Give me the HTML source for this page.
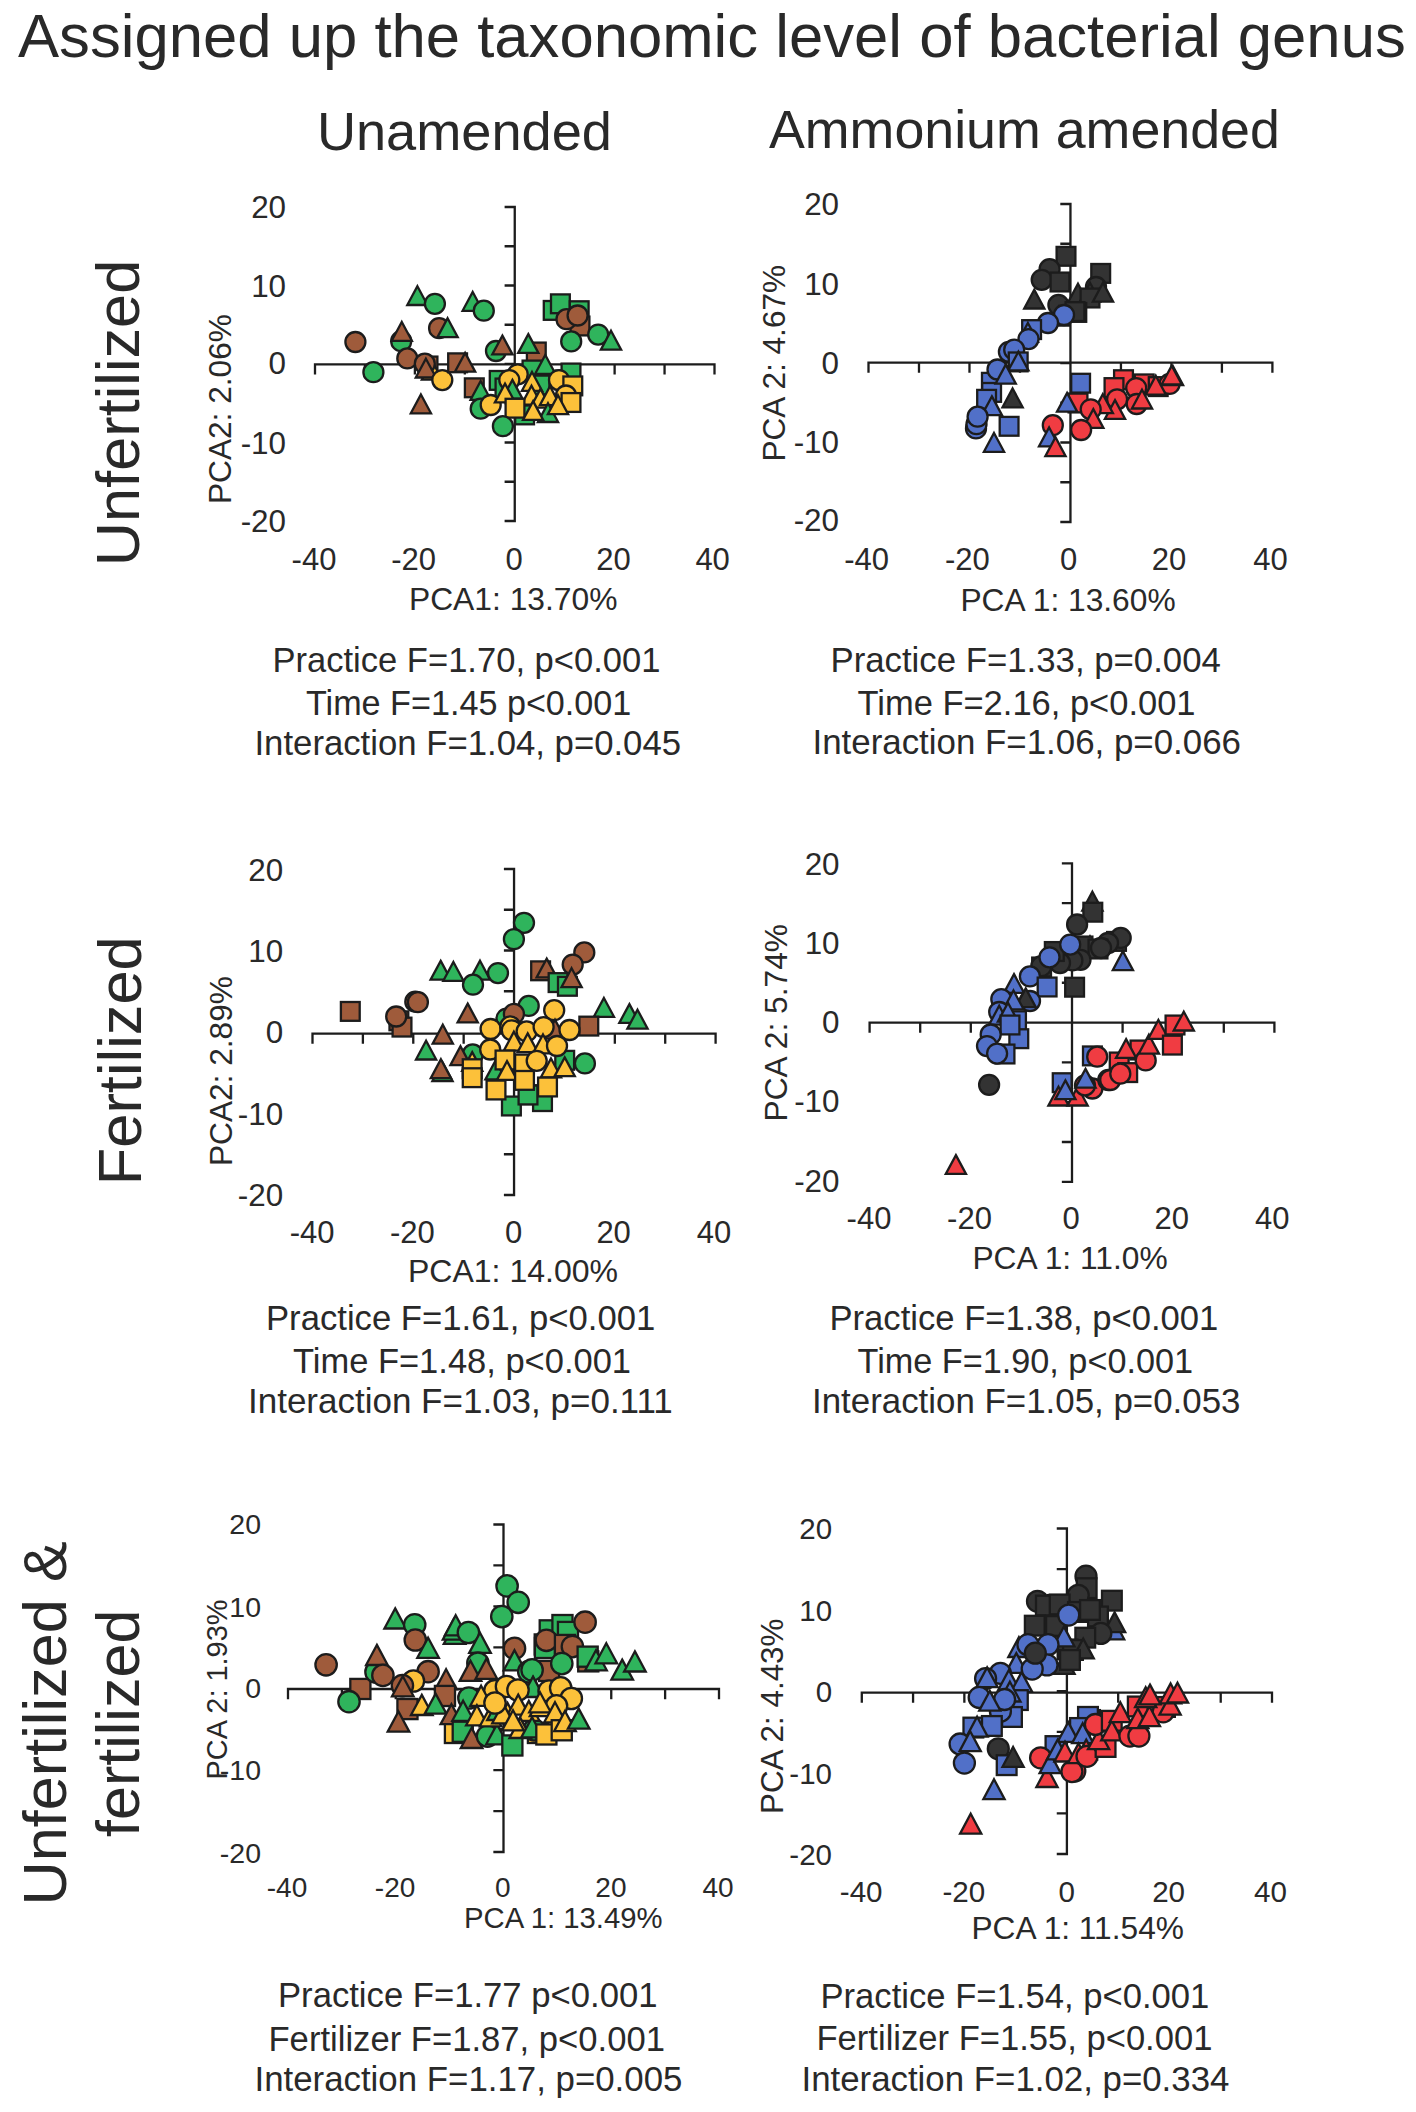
<!DOCTYPE html>
<html><head><meta charset="utf-8"><style>
html,body{margin:0;padding:0;background:#fff;}
svg{display:block;}
text{font-family:"Liberation Sans",sans-serif;fill:#292929;}
</style></head><body>
<svg width="1416" height="2112" viewBox="0 0 1416 2112">
<rect width="1416" height="2112" fill="#fff"/>
<path d="M514.75,207.00V521.00M505.75,207.00H514.75M505.75,246.25H514.75M505.75,285.50H514.75M505.75,324.75H514.75M505.75,364.00H514.75M505.75,403.25H514.75M505.75,442.50H514.75M505.75,481.75H514.75M505.75,521.00H514.75M315.00,364.30H714.50M315.00,364.30V373.30M364.94,364.30V373.30M414.88,364.30V373.30M464.81,364.30V373.30M514.75,364.30V373.30M564.69,364.30V373.30M614.62,364.30V373.30M664.56,364.30V373.30M714.50,364.30V373.30" fill="none" stroke="#1c1c1c" stroke-width="2.3" stroke-linecap="square"/>
<path d="M1070.45,204.00V522.00M1061.45,204.00H1070.45M1061.45,243.75H1070.45M1061.45,283.50H1070.45M1061.45,323.25H1070.45M1061.45,363.00H1070.45M1061.45,402.75H1070.45M1061.45,442.50H1070.45M1061.45,482.25H1070.45M1061.45,522.00H1070.45M868.50,362.60H1272.40M868.50,362.60V371.60M918.99,362.60V371.60M969.48,362.60V371.60M1019.96,362.60V371.60M1070.45,362.60V371.60M1120.94,362.60V371.60M1171.43,362.60V371.60M1221.91,362.60V371.60M1272.40,362.60V371.60" fill="none" stroke="#1c1c1c" stroke-width="2.3" stroke-linecap="square"/>
<path d="M514.05,869.00V1195.00M505.05,869.00H514.05M505.05,909.75H514.05M505.05,950.50H514.05M505.05,991.25H514.05M505.05,1032.00H514.05M505.05,1072.75H514.05M505.05,1113.50H514.05M505.05,1154.25H514.05M505.05,1195.00H514.05M312.50,1033.70H715.60M312.50,1033.70V1042.70M362.89,1033.70V1042.70M413.27,1033.70V1042.70M463.66,1033.70V1042.70M514.05,1033.70V1042.70M564.44,1033.70V1042.70M614.83,1033.70V1042.70M665.21,1033.70V1042.70M715.60,1033.70V1042.70" fill="none" stroke="#1c1c1c" stroke-width="2.3" stroke-linecap="square"/>
<path d="M1072.00,863.30V1181.80M1063.00,863.30H1072.00M1063.00,903.11H1072.00M1063.00,942.92H1072.00M1063.00,982.74H1072.00M1063.00,1022.55H1072.00M1063.00,1062.36H1072.00M1063.00,1102.17H1072.00M1063.00,1141.99H1072.00M1063.00,1181.80H1072.00M869.60,1022.60H1274.40M869.60,1022.60V1031.60M920.20,1022.60V1031.60M970.80,1022.60V1031.60M1021.40,1022.60V1031.60M1072.00,1022.60V1031.60M1122.60,1022.60V1031.60M1173.20,1022.60V1031.60M1223.80,1022.60V1031.60M1274.40,1022.60V1031.60" fill="none" stroke="#1c1c1c" stroke-width="2.3" stroke-linecap="square"/>
<path d="M503.50,1524.50V1852.00M494.50,1524.50H503.50M494.50,1565.44H503.50M494.50,1606.38H503.50M494.50,1647.31H503.50M494.50,1688.25H503.50M494.50,1729.19H503.50M494.50,1770.12H503.50M494.50,1811.06H503.50M494.50,1852.00H503.50M288.00,1689.00H719.00M288.00,1689.00V1698.00M341.88,1689.00V1698.00M395.75,1689.00V1698.00M449.62,1689.00V1698.00M503.50,1689.00V1698.00M557.38,1689.00V1698.00M611.25,1689.00V1698.00M665.12,1689.00V1698.00M719.00,1689.00V1698.00" fill="none" stroke="#1c1c1c" stroke-width="2.3" stroke-linecap="square"/>
<path d="M1066.90,1528.50V1854.00M1057.90,1528.50H1066.90M1057.90,1569.19H1066.90M1057.90,1609.88H1066.90M1057.90,1650.56H1066.90M1057.90,1691.25H1066.90M1057.90,1731.94H1066.90M1057.90,1772.62H1066.90M1057.90,1813.31H1066.90M1057.90,1854.00H1066.90M861.80,1692.60H1272.00M861.80,1692.60V1701.60M913.07,1692.60V1701.60M964.35,1692.60V1701.60M1015.62,1692.60V1701.60M1066.90,1692.60V1701.60M1118.17,1692.60V1701.60M1169.45,1692.60V1701.60M1220.72,1692.60V1701.60M1272.00,1692.60V1701.60" fill="none" stroke="#1c1c1c" stroke-width="2.3" stroke-linecap="square"/>
<g stroke="#1c1c1c" stroke-width="2.3" stroke-linejoin="miter">
<circle cx="355.4" cy="342.0" r="10.00" fill="#9f5b3b"/>
<circle cx="373.4" cy="372.2" r="10.00" fill="#2fb45c"/>
<path d="M417.4,286.2L427.5,305.0H407.3Z" fill="#2fb45c"/>
<circle cx="434.9" cy="303.8" r="10.00" fill="#2fb45c"/>
<circle cx="439.1" cy="328.2" r="10.00" fill="#9f5b3b"/>
<path d="M447.6,318.3L457.7,337.1H437.5Z" fill="#2fb45c"/>
<circle cx="401.2" cy="341.2" r="10.00" fill="#2fb45c"/>
<path d="M401.8,322.0L411.9,340.8H391.7Z" fill="#9f5b3b"/>
<circle cx="407.3" cy="358.4" r="10.00" fill="#9f5b3b"/>
<rect x="418.6" y="356.6" width="18.80" height="18.80" fill="#9f5b3b"/>
<path d="M432.0,360.8L442.1,379.6H421.9Z" fill="#fcc13a"/>
<circle cx="424.8" cy="363.7" r="10.00" fill="#9f5b3b"/>
<path d="M425.9,358.7L436.0,377.5H415.8Z" fill="#9f5b3b"/>
<circle cx="442.3" cy="380.1" r="10.00" fill="#fcc13a"/>
<rect x="448.2" y="353.4" width="18.80" height="18.80" fill="#9f5b3b"/>
<path d="M465.1,352.9L475.2,371.7H455.0Z" fill="#9f5b3b"/>
<path d="M420.9,394.5L431.0,413.3H410.8Z" fill="#9f5b3b"/>
<path d="M472.7,292.0L482.8,310.8H462.6Z" fill="#2fb45c"/>
<circle cx="483.8" cy="310.7" r="10.00" fill="#2fb45c"/>
<circle cx="496.0" cy="351.0" r="10.00" fill="#2fb45c"/>
<path d="M502.4,335.6L512.5,354.4H492.3Z" fill="#9f5b3b"/>
<rect x="526.9" y="342.6" width="18.80" height="18.80" fill="#9f5b3b"/>
<path d="M528.3,334.1L538.4,352.9H518.2Z" fill="#2fb45c"/>
<rect x="543.8" y="301.0" width="18.80" height="18.80" fill="#2fb45c"/>
<rect x="551.0" y="294.4" width="18.80" height="18.80" fill="#2fb45c"/>
<rect x="569.8" y="301.3" width="18.80" height="18.80" fill="#2fb45c"/>
<rect x="570.6" y="316.6" width="18.80" height="18.80" fill="#9f5b3b"/>
<circle cx="566.5" cy="319.2" r="10.00" fill="#9f5b3b"/>
<circle cx="577.6" cy="315.5" r="10.00" fill="#9f5b3b"/>
<circle cx="571.2" cy="341.4" r="10.00" fill="#2fb45c"/>
<circle cx="598.2" cy="334.6" r="10.00" fill="#2fb45c"/>
<path d="M611.0,330.8L621.1,349.6H600.9Z" fill="#2fb45c"/>
<rect x="522.6" y="360.6" width="18.80" height="18.80" fill="#2fb45c"/>
<path d="M545.3,355.0L555.4,373.8H535.2Z" fill="#2fb45c"/>
<rect x="489.8" y="371.0" width="18.80" height="18.80" fill="#2fb45c"/>
<rect x="495.6" y="378.6" width="18.80" height="18.80" fill="#2fb45c"/>
<rect x="530.6" y="375.6" width="18.80" height="18.80" fill="#2fb45c"/>
<rect x="555.6" y="370.6" width="18.80" height="18.80" fill="#2fb45c"/>
<rect x="561.6" y="363.6" width="18.80" height="18.80" fill="#2fb45c"/>
<rect x="464.9" y="378.4" width="18.80" height="18.80" fill="#9f5b3b"/>
<path d="M480.7,381.0L490.8,399.8H470.6Z" fill="#2fb45c"/>
<circle cx="480.7" cy="408.7" r="10.00" fill="#2fb45c"/>
<circle cx="490.7" cy="405.0" r="10.00" fill="#fcc13a"/>
<circle cx="517.7" cy="374.3" r="10.00" fill="#fcc13a"/>
<circle cx="509.3" cy="380.1" r="10.00" fill="#fcc13a"/>
<path d="M512.4,379.9L522.5,398.7H502.3Z" fill="#2fb45c"/>
<path d="M505.0,383.6L515.1,402.4H494.9Z" fill="#fcc13a"/>
<path d="M532.0,372.0L542.1,390.8H521.9Z" fill="#fcc13a"/>
<circle cx="559.0" cy="380.1" r="10.00" fill="#fcc13a"/>
<rect x="563.4" y="376.5" width="18.80" height="18.80" fill="#fcc13a"/>
<circle cx="566.0" cy="395.5" r="10.00" fill="#fcc13a"/>
<rect x="561.6" y="393.1" width="18.80" height="18.80" fill="#fcc13a"/>
<path d="M531.5,385.8L541.6,404.6H521.4Z" fill="#fcc13a"/>
<path d="M540.5,388.9L550.6,407.7H530.4Z" fill="#fcc13a"/>
<path d="M550.0,386.3L560.1,405.1H539.9Z" fill="#fcc13a"/>
<rect x="515.2" y="405.5" width="18.80" height="18.80" fill="#2fb45c"/>
<rect x="505.6" y="398.8" width="18.80" height="18.80" fill="#fcc13a"/>
<path d="M548.0,403.2L558.1,422.0H537.9Z" fill="#2fb45c"/>
<path d="M558.0,395.3L568.1,414.1H547.9Z" fill="#fcc13a"/>
<path d="M533.1,401.1L543.2,419.9H523.0Z" fill="#fcc13a"/>
<circle cx="502.9" cy="426.2" r="10.00" fill="#2fb45c"/>
<rect x="1056.6" y="246.9" width="18.80" height="18.80" fill="#333333"/>
<circle cx="1049.6" cy="269.2" r="10.00" fill="#333333"/>
<circle cx="1041.7" cy="279.8" r="10.00" fill="#333333"/>
<rect x="1050.6" y="272.6" width="18.80" height="18.80" fill="#333333"/>
<path d="M1034.3,289.7L1044.4,308.5H1024.2Z" fill="#333333"/>
<rect x="1091.3" y="264.0" width="18.80" height="18.80" fill="#333333"/>
<circle cx="1096.0" cy="287.0" r="10.00" fill="#333333"/>
<path d="M1078.0,283.8L1088.1,302.6H1067.9Z" fill="#333333"/>
<path d="M1090.0,282.8L1100.1,301.6H1079.9Z" fill="#333333"/>
<rect x="1080.6" y="288.6" width="18.80" height="18.80" fill="#333333"/>
<path d="M1103.0,282.8L1113.1,301.6H1092.9Z" fill="#333333"/>
<rect x="1067.4" y="303.0" width="18.80" height="18.80" fill="#333333"/>
<circle cx="1058.4" cy="304.9" r="10.00" fill="#333333"/>
<rect x="1065.6" y="302.2" width="18.80" height="18.80" fill="#333333"/>
<path d="M1058.8,306.8L1068.9,325.6H1048.7Z" fill="#333333"/>
<circle cx="1064.0" cy="315.0" r="10.00" fill="#5170c8"/>
<circle cx="1048.0" cy="323.0" r="10.00" fill="#5170c8"/>
<rect x="1022.2" y="320.2" width="18.80" height="18.80" fill="#5170c8"/>
<path d="M1027.9,323.0L1038.0,341.8H1017.8Z" fill="#5170c8"/>
<circle cx="1028.5" cy="339.1" r="10.00" fill="#5170c8"/>
<circle cx="1008.9" cy="351.8" r="10.00" fill="#5170c8"/>
<circle cx="1014.2" cy="349.7" r="10.00" fill="#5170c8"/>
<rect x="1008.8" y="352.5" width="18.80" height="18.80" fill="#5170c8"/>
<path d="M1018.4,351.6L1028.5,370.4H1008.3Z" fill="#5170c8"/>
<rect x="982.0" y="372.9" width="18.80" height="18.80" fill="#5170c8"/>
<rect x="982.2" y="383.0" width="18.80" height="18.80" fill="#5170c8"/>
<rect x="977.2" y="389.9" width="18.80" height="18.80" fill="#5170c8"/>
<circle cx="997.5" cy="369.5" r="10.00" fill="#5170c8"/>
<path d="M1005.7,364.8L1015.8,383.6H995.6Z" fill="#5170c8"/>
<path d="M991.9,396.4L1002.0,415.2H981.8Z" fill="#5170c8"/>
<circle cx="976.0" cy="428.4" r="10.00" fill="#5170c8"/>
<circle cx="976.5" cy="424.2" r="10.00" fill="#5170c8"/>
<circle cx="977.6" cy="416.7" r="10.00" fill="#5170c8"/>
<path d="M1012.6,388.5L1022.7,407.3H1002.5Z" fill="#333333"/>
<rect x="999.7" y="416.9" width="18.80" height="18.80" fill="#5170c8"/>
<path d="M994.0,433.0L1004.1,451.8H983.9Z" fill="#5170c8"/>
<circle cx="1052.8" cy="425.2" r="10.00" fill="#f03c42"/>
<path d="M1049.1,427.5L1059.2,446.3H1039.0Z" fill="#5170c8"/>
<path d="M1055.5,437.3L1065.6,456.1H1045.4Z" fill="#f03c42"/>
<rect x="1071.2" y="373.8" width="18.80" height="18.80" fill="#5170c8"/>
<rect x="1068.6" y="393.6" width="18.80" height="18.80" fill="#f03c42"/>
<path d="M1067.1,392.9L1077.2,411.7H1057.0Z" fill="#5170c8"/>
<rect x="1114.1" y="370.3" width="18.80" height="18.80" fill="#f03c42"/>
<rect x="1104.6" y="378.2" width="18.80" height="18.80" fill="#f03c42"/>
<rect x="1134.8" y="374.5" width="18.80" height="18.80" fill="#f03c42"/>
<rect x="1148.8" y="377.2" width="18.80" height="18.80" fill="#f03c42"/>
<circle cx="1169.6" cy="383.9" r="10.00" fill="#f03c42"/>
<path d="M1155.8,375.8L1165.9,394.6H1145.7Z" fill="#f03c42"/>
<path d="M1173.0,366.3L1183.1,385.1H1162.9Z" fill="#f03c42"/>
<path d="M1171.7,365.7L1181.8,384.5H1161.6Z" fill="#f03c42"/>
<circle cx="1136.2" cy="388.1" r="10.00" fill="#f03c42"/>
<circle cx="1136.7" cy="404.0" r="10.00" fill="#f03c42"/>
<path d="M1142.0,389.7L1152.1,408.5H1131.9Z" fill="#f03c42"/>
<circle cx="1117.1" cy="399.3" r="10.00" fill="#f03c42"/>
<path d="M1115.0,400.1L1125.1,418.9H1104.9Z" fill="#f03c42"/>
<path d="M1102.8,394.3L1112.9,413.1H1092.7Z" fill="#f03c42"/>
<circle cx="1090.7" cy="409.3" r="10.00" fill="#f03c42"/>
<path d="M1093.3,409.1L1103.4,427.9H1083.2Z" fill="#f03c42"/>
<circle cx="1081.1" cy="430.0" r="10.00" fill="#f03c42"/>
<rect x="340.9" y="1002.0" width="18.80" height="18.80" fill="#9f5b3b"/>
<rect x="389.5" y="1011.4" width="18.80" height="18.80" fill="#9f5b3b"/>
<rect x="392.6" y="1017.7" width="18.80" height="18.80" fill="#9f5b3b"/>
<circle cx="396.2" cy="1016.5" r="10.00" fill="#9f5b3b"/>
<circle cx="415.3" cy="1001.7" r="10.00" fill="#9f5b3b"/>
<circle cx="417.9" cy="1002.2" r="10.00" fill="#9f5b3b"/>
<path d="M440.7,960.9L450.8,979.7H430.6Z" fill="#2fb45c"/>
<path d="M453.4,962.0L463.5,980.8H443.3Z" fill="#2fb45c"/>
<path d="M480.0,960.8L490.1,979.6H469.9Z" fill="#2fb45c"/>
<circle cx="473.0" cy="984.7" r="10.00" fill="#2fb45c"/>
<circle cx="498.0" cy="973.1" r="10.00" fill="#2fb45c"/>
<path d="M467.7,1003.6L477.8,1022.4H457.6Z" fill="#9f5b3b"/>
<path d="M442.8,1024.8L452.9,1043.6H432.7Z" fill="#9f5b3b"/>
<path d="M426.1,1040.7L436.2,1059.5H416.0Z" fill="#2fb45c"/>
<path d="M442.5,1062.2L452.6,1081.0H432.4Z" fill="#2fb45c"/>
<path d="M440.9,1059.3L451.0,1078.1H430.8Z" fill="#9f5b3b"/>
<circle cx="472.7" cy="1054.4" r="10.00" fill="#2fb45c"/>
<path d="M460.5,1046.3L470.6,1065.1H450.4Z" fill="#9f5b3b"/>
<circle cx="524.0" cy="922.8" r="10.00" fill="#2fb45c"/>
<circle cx="513.9" cy="939.2" r="10.00" fill="#2fb45c"/>
<rect x="531.2" y="961.4" width="18.80" height="18.80" fill="#9f5b3b"/>
<path d="M546.7,958.6L556.8,977.4H536.6Z" fill="#9f5b3b"/>
<rect x="548.7" y="973.2" width="18.80" height="18.80" fill="#2fb45c"/>
<rect x="558.0" y="976.9" width="18.80" height="18.80" fill="#2fb45c"/>
<circle cx="584.3" cy="952.4" r="10.00" fill="#9f5b3b"/>
<circle cx="572.7" cy="964.6" r="10.00" fill="#9f5b3b"/>
<path d="M571.6,968.3L581.7,987.1H561.5Z" fill="#9f5b3b"/>
<path d="M603.9,998.0L614.0,1016.8H593.8Z" fill="#2fb45c"/>
<path d="M629.4,1004.1L639.5,1022.9H619.3Z" fill="#2fb45c"/>
<path d="M637.5,1009.8L647.6,1028.6H627.4Z" fill="#2fb45c"/>
<rect x="579.4" y="1016.7" width="18.80" height="18.80" fill="#9f5b3b"/>
<circle cx="528.7" cy="1005.9" r="10.00" fill="#2fb45c"/>
<circle cx="506.5" cy="1018.6" r="10.00" fill="#2fb45c"/>
<circle cx="513.9" cy="1013.9" r="10.00" fill="#9f5b3b"/>
<rect x="502.0" y="1096.6" width="18.80" height="18.80" fill="#2fb45c"/>
<rect x="520.4" y="1085.3" width="18.80" height="18.80" fill="#2fb45c"/>
<rect x="533.1" y="1092.2" width="18.80" height="18.80" fill="#2fb45c"/>
<rect x="518.6" y="1085.6" width="18.80" height="18.80" fill="#2fb45c"/>
<rect x="555.3" y="1050.9" width="18.80" height="18.80" fill="#2fb45c"/>
<rect x="495.6" y="1054.6" width="18.80" height="18.80" fill="#2fb45c"/>
<path d="M495.5,1060.6L505.6,1079.4H485.4Z" fill="#2fb45c"/>
<circle cx="554.2" cy="1010.2" r="10.00" fill="#fcc13a"/>
<path d="M555.0,1019.8L565.1,1038.6H544.9Z" fill="#9f5b3b"/>
<circle cx="490.6" cy="1029.0" r="10.00" fill="#fcc13a"/>
<circle cx="510.3" cy="1026.4" r="10.00" fill="#fcc13a"/>
<circle cx="511.8" cy="1030.3" r="10.00" fill="#fcc13a"/>
<circle cx="526.6" cy="1031.4" r="10.00" fill="#fcc13a"/>
<circle cx="543.6" cy="1027.1" r="10.00" fill="#fcc13a"/>
<circle cx="569.5" cy="1030.0" r="10.00" fill="#fcc13a"/>
<path d="M513.9,1031.8L524.0,1050.6H503.8Z" fill="#fcc13a"/>
<path d="M527.7,1033.4L537.8,1052.2H517.6Z" fill="#fcc13a"/>
<path d="M543.0,1034.5L553.1,1053.3H532.9Z" fill="#fcc13a"/>
<circle cx="490.2" cy="1049.5" r="10.00" fill="#fcc13a"/>
<circle cx="557.0" cy="1046.0" r="10.00" fill="#fcc13a"/>
<path d="M472.2,1052.1L482.3,1070.9H462.1Z" fill="#fcc13a"/>
<rect x="462.8" y="1059.3" width="18.80" height="18.80" fill="#fcc13a"/>
<rect x="462.8" y="1068.3" width="18.80" height="18.80" fill="#fcc13a"/>
<rect x="495.6" y="1050.6" width="18.80" height="18.80" fill="#fcc13a"/>
<rect x="515.1" y="1054.6" width="18.80" height="18.80" fill="#fcc13a"/>
<circle cx="536.7" cy="1060.8" r="10.00" fill="#fcc13a"/>
<path d="M507.0,1061.1L517.1,1079.9H496.9Z" fill="#fcc13a"/>
<path d="M551.0,1058.5L561.1,1077.3H540.9Z" fill="#fcc13a"/>
<path d="M564.7,1057.4L574.8,1076.2H554.6Z" fill="#fcc13a"/>
<circle cx="584.9" cy="1063.4" r="10.00" fill="#2fb45c"/>
<rect x="515.1" y="1071.0" width="18.80" height="18.80" fill="#fcc13a"/>
<rect x="538.1" y="1077.6" width="18.80" height="18.80" fill="#fcc13a"/>
<rect x="486.6" y="1080.6" width="18.80" height="18.80" fill="#fcc13a"/>
<path d="M1092.4,891.8L1102.5,910.6H1082.3Z" fill="#333333"/>
<rect x="1083.4" y="902.8" width="18.80" height="18.80" fill="#333333"/>
<circle cx="1077.1" cy="924.5" r="10.00" fill="#333333"/>
<rect x="1107.1" y="932.0" width="18.80" height="18.80" fill="#333333"/>
<circle cx="1120.7" cy="937.9" r="10.00" fill="#333333"/>
<circle cx="1108.0" cy="943.0" r="10.00" fill="#333333"/>
<path d="M1090.0,936.5L1100.1,955.3H1079.9Z" fill="#333333"/>
<rect x="1073.6" y="936.6" width="18.80" height="18.80" fill="#333333"/>
<rect x="1088.6" y="939.6" width="18.80" height="18.80" fill="#333333"/>
<circle cx="1101.0" cy="948.0" r="10.00" fill="#333333"/>
<circle cx="1080.5" cy="959.8" r="10.00" fill="#333333"/>
<circle cx="1072.4" cy="960.4" r="10.00" fill="#333333"/>
<circle cx="1060.0" cy="963.0" r="10.00" fill="#333333"/>
<rect x="1044.9" y="942.1" width="18.80" height="18.80" fill="#333333"/>
<rect x="1032.2" y="957.6" width="18.80" height="18.80" fill="#333333"/>
<circle cx="1041.3" cy="966.2" r="10.00" fill="#333333"/>
<rect x="1065.2" y="977.8" width="18.80" height="18.80" fill="#333333"/>
<circle cx="1070.2" cy="944.6" r="10.00" fill="#5170c8"/>
<circle cx="1049.5" cy="957.3" r="10.00" fill="#5170c8"/>
<path d="M1122.9,951.3L1133.0,970.1H1112.8Z" fill="#5170c8"/>
<circle cx="1029.9" cy="976.4" r="10.00" fill="#5170c8"/>
<rect x="1037.7" y="977.6" width="18.80" height="18.80" fill="#5170c8"/>
<path d="M1014.0,974.1L1024.1,992.9H1003.9Z" fill="#5170c8"/>
<rect x="1007.1" y="1011.3" width="18.80" height="18.80" fill="#5170c8"/>
<rect x="1009.4" y="1029.3" width="18.80" height="18.80" fill="#5170c8"/>
<rect x="995.6" y="1044.6" width="18.80" height="18.80" fill="#5170c8"/>
<circle cx="1030.0" cy="1001.0" r="10.00" fill="#5170c8"/>
<path d="M1025.7,988.4L1035.8,1007.2H1015.6Z" fill="#333333"/>
<circle cx="1001.3" cy="999.2" r="10.00" fill="#5170c8"/>
<path d="M1013.5,990.5L1023.6,1009.3H1003.4Z" fill="#5170c8"/>
<circle cx="999.2" cy="1012.0" r="10.00" fill="#5170c8"/>
<path d="M999.2,1005.8L1009.3,1024.6H989.1Z" fill="#5170c8"/>
<path d="M1008.0,1002.8L1018.1,1021.6H997.9Z" fill="#5170c8"/>
<rect x="1000.6" y="1015.6" width="18.80" height="18.80" fill="#5170c8"/>
<circle cx="990.7" cy="1034.5" r="10.00" fill="#5170c8"/>
<circle cx="987.0" cy="1046.1" r="10.00" fill="#5170c8"/>
<circle cx="997.1" cy="1053.6" r="10.00" fill="#5170c8"/>
<circle cx="989.1" cy="1084.8" r="10.00" fill="#333333"/>
<rect x="1052.8" y="1073.3" width="18.80" height="18.80" fill="#5170c8"/>
<path d="M1058.5,1086.7L1068.6,1105.5H1048.4Z" fill="#f03c42"/>
<path d="M1077.6,1086.7L1087.7,1105.5H1067.5Z" fill="#f03c42"/>
<path d="M1065.4,1080.4L1075.5,1099.2H1055.3Z" fill="#5170c8"/>
<rect x="1083.0" y="1046.5" width="18.80" height="18.80" fill="#5170c8"/>
<circle cx="1097.2" cy="1056.7" r="10.00" fill="#f03c42"/>
<rect x="1109.8" y="1052.6" width="18.80" height="18.80" fill="#f03c42"/>
<rect x="1118.3" y="1063.2" width="18.80" height="18.80" fill="#f03c42"/>
<rect x="1130.6" y="1040.6" width="18.80" height="18.80" fill="#f03c42"/>
<circle cx="1092.4" cy="1088.5" r="10.00" fill="#f03c42"/>
<circle cx="1085.0" cy="1085.3" r="10.00" fill="#f03c42"/>
<circle cx="1108.3" cy="1080.0" r="10.00" fill="#f03c42"/>
<circle cx="1110.2" cy="1080.0" r="10.00" fill="#f03c42"/>
<circle cx="1120.3" cy="1073.7" r="10.00" fill="#f03c42"/>
<path d="M1085.5,1068.9L1095.6,1087.7H1075.4Z" fill="#5170c8"/>
<path d="M1126.1,1039.1L1136.2,1057.9H1116.0Z" fill="#f03c42"/>
<circle cx="1145.7" cy="1060.4" r="10.00" fill="#f03c42"/>
<path d="M1148.9,1034.8L1159.0,1053.6H1138.8Z" fill="#f03c42"/>
<path d="M1158.4,1020.0L1168.5,1038.8H1148.3Z" fill="#f03c42"/>
<rect x="1163.0" y="1035.7" width="18.80" height="18.80" fill="#f03c42"/>
<rect x="1165.6" y="1015.6" width="18.80" height="18.80" fill="#f03c42"/>
<path d="M1183.8,1011.7L1193.9,1030.5H1173.7Z" fill="#f03c42"/>
<path d="M955.9,1155.1L966.0,1173.9H945.8Z" fill="#f03c42"/>
<circle cx="326.1" cy="1664.8" r="10.70" fill="#9f5b3b"/>
<rect x="350.3" y="1678.9" width="20.12" height="20.12" fill="#9f5b3b"/>
<circle cx="349.0" cy="1701.7" r="10.70" fill="#2fb45c"/>
<circle cx="376.0" cy="1672.0" r="10.70" fill="#2fb45c"/>
<path d="M376.9,1644.9L387.7,1665.0H366.1Z" fill="#9f5b3b"/>
<circle cx="382.9" cy="1675.4" r="10.70" fill="#9f5b3b"/>
<path d="M395.2,1608.4L406.0,1628.5H384.4Z" fill="#2fb45c"/>
<circle cx="414.7" cy="1624.8" r="10.70" fill="#2fb45c"/>
<circle cx="415.3" cy="1640.0" r="10.70" fill="#9f5b3b"/>
<path d="M428.1,1637.7L438.9,1657.8H417.3Z" fill="#2fb45c"/>
<path d="M454.6,1623.8L465.4,1643.9H443.8Z" fill="#2fb45c"/>
<path d="M453.6,1619.5L464.4,1639.6H442.8Z" fill="#2fb45c"/>
<path d="M455.7,1615.3L466.5,1635.4H444.9Z" fill="#2fb45c"/>
<circle cx="468.4" cy="1632.5" r="10.70" fill="#2fb45c"/>
<path d="M480.0,1632.8L490.8,1652.9H469.2Z" fill="#2fb45c"/>
<circle cx="507.1" cy="1585.9" r="10.70" fill="#2fb45c"/>
<circle cx="518.2" cy="1602.3" r="10.70" fill="#2fb45c"/>
<circle cx="501.8" cy="1616.6" r="10.70" fill="#2fb45c"/>
<rect x="539.7" y="1620.3" width="20.12" height="20.12" fill="#2fb45c"/>
<rect x="552.4" y="1615.0" width="20.12" height="20.12" fill="#2fb45c"/>
<rect x="557.9" y="1621.9" width="20.12" height="20.12" fill="#2fb45c"/>
<circle cx="585.1" cy="1622.2" r="10.70" fill="#9f5b3b"/>
<rect x="534.7" y="1634.4" width="20.12" height="20.12" fill="#2fb45c"/>
<rect x="534.9" y="1637.9" width="20.12" height="20.12" fill="#2fb45c"/>
<circle cx="546.4" cy="1640.3" r="10.70" fill="#9f5b3b"/>
<rect x="554.9" y="1634.9" width="20.12" height="20.12" fill="#9f5b3b"/>
<circle cx="572.4" cy="1646.6" r="10.70" fill="#9f5b3b"/>
<rect x="539.0" y="1660.9" width="20.12" height="20.12" fill="#9f5b3b"/>
<circle cx="561.8" cy="1663.6" r="10.70" fill="#2fb45c"/>
<rect x="578.2" y="1651.3" width="20.12" height="20.12" fill="#9f5b3b"/>
<rect x="577.6" y="1646.6" width="20.12" height="20.12" fill="#2fb45c"/>
<path d="M596.0,1650.2L606.8,1670.3H585.2Z" fill="#2fb45c"/>
<path d="M606.3,1643.2L617.1,1663.3H595.5Z" fill="#2fb45c"/>
<path d="M622.2,1659.6L633.0,1679.7H611.4Z" fill="#2fb45c"/>
<path d="M634.9,1651.4L645.7,1671.5H624.1Z" fill="#2fb45c"/>
<circle cx="514.5" cy="1648.4" r="10.70" fill="#9f5b3b"/>
<path d="M514.5,1650.2L525.3,1670.3H503.7Z" fill="#2fb45c"/>
<circle cx="528.8" cy="1671.7" r="10.70" fill="#2fb45c"/>
<rect x="397.4" y="1699.0" width="20.12" height="20.12" fill="#9f5b3b"/>
<path d="M398.5,1711.5L409.3,1731.6H387.7Z" fill="#9f5b3b"/>
<circle cx="428.1" cy="1671.7" r="10.70" fill="#9f5b3b"/>
<circle cx="413.4" cy="1681.0" r="10.70" fill="#fcc13a"/>
<circle cx="402.4" cy="1685.6" r="10.70" fill="#9f5b3b"/>
<path d="M402.8,1676.2L413.6,1696.3H392.0Z" fill="#9f5b3b"/>
<path d="M446.1,1669.3L456.9,1689.4H435.3Z" fill="#9f5b3b"/>
<rect x="434.9" y="1685.9" width="20.12" height="20.12" fill="#9f5b3b"/>
<circle cx="477.9" cy="1663.2" r="10.70" fill="#2fb45c"/>
<path d="M470.5,1660.8L481.3,1680.9H459.7Z" fill="#9f5b3b"/>
<path d="M486.4,1658.7L497.2,1678.8H475.6Z" fill="#9f5b3b"/>
<path d="M421.8,1694.9L432.6,1715.0H411.0Z" fill="#fcc13a"/>
<path d="M435.6,1693.6L446.4,1713.7H424.8Z" fill="#2fb45c"/>
<rect x="444.9" y="1722.9" width="20.12" height="20.12" fill="#fcc13a"/>
<path d="M451.4,1704.1L462.2,1724.2H440.6Z" fill="#9f5b3b"/>
<circle cx="468.9" cy="1698.0" r="10.70" fill="#2fb45c"/>
<path d="M463.1,1700.7L473.9,1720.8H452.3Z" fill="#2fb45c"/>
<rect x="452.7" y="1721.7" width="20.12" height="20.12" fill="#2fb45c"/>
<path d="M471.6,1727.9L482.4,1748.0H460.8Z" fill="#9f5b3b"/>
<circle cx="487.5" cy="1736.1" r="10.70" fill="#2fb45c"/>
<path d="M497.0,1724.2L507.8,1744.3H486.2Z" fill="#2fb45c"/>
<rect x="502.3" y="1735.4" width="20.12" height="20.12" fill="#2fb45c"/>
<rect x="527.9" y="1722.9" width="20.12" height="20.12" fill="#fcc13a"/>
<circle cx="534.1" cy="1729.8" r="10.70" fill="#2fb45c"/>
<circle cx="532.1" cy="1669.9" r="10.70" fill="#2fb45c"/>
<path d="M533.2,1677.1L544.0,1697.2H522.4Z" fill="#2fb45c"/>
<path d="M533.0,1676.7L543.8,1696.8H522.2Z" fill="#2fb45c"/>
<circle cx="494.9" cy="1690.7" r="10.70" fill="#fcc13a"/>
<circle cx="506.5" cy="1686.5" r="10.70" fill="#fcc13a"/>
<circle cx="518.0" cy="1690.0" r="10.70" fill="#fcc13a"/>
<circle cx="549.1" cy="1691.1" r="10.70" fill="#fcc13a"/>
<circle cx="560.7" cy="1687.9" r="10.70" fill="#fcc13a"/>
<circle cx="571.3" cy="1698.5" r="10.70" fill="#fcc13a"/>
<circle cx="556.5" cy="1705.9" r="10.70" fill="#fcc13a"/>
<path d="M481.1,1685.7L491.9,1705.8H470.3Z" fill="#fcc13a"/>
<path d="M476.9,1705.2L487.7,1725.3H466.1Z" fill="#fcc13a"/>
<path d="M490.6,1706.2L501.4,1726.3H479.8Z" fill="#fcc13a"/>
<path d="M498.0,1699.9L508.8,1720.0H487.2Z" fill="#2fb45c"/>
<path d="M507.6,1703.0L518.4,1723.1H496.8Z" fill="#fcc13a"/>
<path d="M518.2,1694.6L529.0,1714.7H507.4Z" fill="#fcc13a"/>
<path d="M528.8,1700.9L539.6,1721.0H518.0Z" fill="#fcc13a"/>
<path d="M540.6,1696.1L551.4,1716.2H529.8Z" fill="#fcc13a"/>
<path d="M520.3,1717.9L531.1,1738.0H509.5Z" fill="#fcc13a"/>
<path d="M503.0,1703.2L513.8,1723.3H492.2Z" fill="#fcc13a"/>
<path d="M540.0,1692.2L550.8,1712.3H529.2Z" fill="#fcc13a"/>
<path d="M513.0,1710.2L523.8,1730.3H502.2Z" fill="#fcc13a"/>
<path d="M555.0,1702.2L565.8,1722.3H544.2Z" fill="#fcc13a"/>
<circle cx="495.0" cy="1703.0" r="10.70" fill="#fcc13a"/>
<path d="M532.1,1717.3L542.9,1737.4H521.3Z" fill="#2fb45c"/>
<rect x="536.3" y="1724.4" width="20.12" height="20.12" fill="#fcc13a"/>
<rect x="551.7" y="1720.2" width="20.12" height="20.12" fill="#fcc13a"/>
<path d="M565.0,1711.0L575.8,1731.1H554.2Z" fill="#fcc13a"/>
<path d="M578.7,1708.6L589.5,1728.7H567.9Z" fill="#2fb45c"/>
<circle cx="1086.0" cy="1576.2" r="10.50" fill="#333333"/>
<rect x="1076.8" y="1578.3" width="19.74" height="19.74" fill="#333333"/>
<circle cx="1078.2" cy="1595.3" r="10.50" fill="#333333"/>
<rect x="1102.0" y="1590.8" width="19.74" height="19.74" fill="#333333"/>
<rect x="1088.1" y="1606.6" width="19.74" height="19.74" fill="#333333"/>
<rect x="1048.1" y="1595.1" width="19.74" height="19.74" fill="#333333"/>
<circle cx="1037.5" cy="1601.3" r="10.50" fill="#333333"/>
<rect x="1036.0" y="1595.7" width="19.74" height="19.74" fill="#333333"/>
<rect x="1049.8" y="1594.6" width="19.74" height="19.74" fill="#333333"/>
<rect x="1024.9" y="1615.8" width="19.74" height="19.74" fill="#333333"/>
<rect x="1046.1" y="1616.1" width="19.74" height="19.74" fill="#333333"/>
<rect x="1068.1" y="1602.1" width="19.74" height="19.74" fill="#333333"/>
<rect x="1080.1" y="1600.1" width="19.74" height="19.74" fill="#333333"/>
<path d="M1113.6,1619.5L1124.2,1639.3H1103.0Z" fill="#5170c8"/>
<path d="M1114.6,1612.4L1125.2,1632.2H1104.0Z" fill="#333333"/>
<circle cx="1100.8" cy="1633.4" r="10.50" fill="#333333"/>
<rect x="1075.4" y="1627.8" width="19.74" height="19.74" fill="#333333"/>
<rect x="1057.7" y="1639.6" width="19.74" height="19.74" fill="#333333"/>
<rect x="1063.1" y="1640.1" width="19.74" height="19.74" fill="#333333"/>
<path d="M1083.2,1638.6L1093.8,1658.4H1072.6Z" fill="#333333"/>
<circle cx="1068.7" cy="1615.1" r="10.50" fill="#5170c8"/>
<path d="M1063.9,1626.6L1074.5,1646.4H1053.3Z" fill="#5170c8"/>
<path d="M1064.0,1654.1L1074.6,1673.9H1053.4Z" fill="#333333"/>
<rect x="1060.1" y="1650.1" width="19.74" height="19.74" fill="#333333"/>
<circle cx="1048.0" cy="1644.7" r="10.50" fill="#5170c8"/>
<circle cx="1047.0" cy="1664.9" r="10.50" fill="#5170c8"/>
<path d="M1018.9,1637.2L1029.5,1657.0H1008.3Z" fill="#5170c8"/>
<circle cx="1027.9" cy="1644.7" r="10.50" fill="#5170c8"/>
<path d="M1016.3,1653.1L1026.9,1672.9H1005.7Z" fill="#5170c8"/>
<circle cx="1032.2" cy="1669.1" r="10.50" fill="#5170c8"/>
<circle cx="1035.3" cy="1653.2" r="10.50" fill="#333333"/>
<circle cx="1000.4" cy="1673.3" r="10.50" fill="#5170c8"/>
<circle cx="985.6" cy="1678.6" r="10.50" fill="#5170c8"/>
<path d="M987.1,1667.4L997.7,1687.2H976.5Z" fill="#5170c8"/>
<path d="M1008.9,1670.0L1019.5,1689.8H998.3Z" fill="#5170c8"/>
<path d="M1021.6,1672.1L1032.2,1691.9H1011.0Z" fill="#5170c8"/>
<rect x="1008.0" y="1690.2" width="19.74" height="19.74" fill="#5170c8"/>
<rect x="1002.1" y="1707.1" width="19.74" height="19.74" fill="#5170c8"/>
<circle cx="1000.4" cy="1711.2" r="10.50" fill="#5170c8"/>
<circle cx="979.2" cy="1697.4" r="10.50" fill="#5170c8"/>
<path d="M1009.9,1681.7L1020.5,1701.5H999.3Z" fill="#5170c8"/>
<circle cx="1004.6" cy="1699.5" r="10.50" fill="#5170c8"/>
<path d="M989.8,1690.9L1000.4,1710.7H979.2Z" fill="#5170c8"/>
<rect x="963.5" y="1717.7" width="19.74" height="19.74" fill="#5170c8"/>
<rect x="982.0" y="1716.1" width="19.74" height="19.74" fill="#5170c8"/>
<path d="M977.1,1716.8L987.7,1736.6H966.5Z" fill="#5170c8"/>
<circle cx="960.1" cy="1744.0" r="10.50" fill="#5170c8"/>
<path d="M970.2,1731.3L980.8,1751.1H959.6Z" fill="#5170c8"/>
<circle cx="964.4" cy="1763.1" r="10.50" fill="#5170c8"/>
<circle cx="998.3" cy="1748.8" r="10.50" fill="#333333"/>
<rect x="996.8" y="1755.3" width="19.74" height="19.74" fill="#5170c8"/>
<path d="M1013.1,1747.0L1023.7,1766.8H1002.5Z" fill="#333333"/>
<path d="M994.0,1779.3L1004.6,1799.1H983.4Z" fill="#5170c8"/>
<path d="M970.7,1813.8L981.3,1833.6H960.1Z" fill="#f03c42"/>
<rect x="1080.1" y="1710.1" width="19.74" height="19.74" fill="#5170c8"/>
<rect x="1078.1" y="1707.0" width="19.74" height="19.74" fill="#5170c8"/>
<rect x="1070.1" y="1718.1" width="19.74" height="19.74" fill="#5170c8"/>
<rect x="1045.6" y="1736.2" width="19.74" height="19.74" fill="#5170c8"/>
<path d="M1068.2,1722.1L1078.8,1741.9H1057.6Z" fill="#5170c8"/>
<path d="M1082.7,1723.3L1093.3,1743.1H1072.1Z" fill="#5170c8"/>
<circle cx="1040.6" cy="1757.8" r="10.50" fill="#f03c42"/>
<path d="M1047.0,1767.2L1057.6,1787.0H1036.4Z" fill="#f03c42"/>
<path d="M1050.2,1753.4L1060.8,1773.2H1039.6Z" fill="#5170c8"/>
<path d="M1057.6,1739.6L1068.2,1759.4H1047.0Z" fill="#5170c8"/>
<path d="M1065.0,1741.7L1075.6,1761.5H1054.4Z" fill="#f03c42"/>
<path d="M1086.2,1739.6L1096.8,1759.4H1075.6Z" fill="#f03c42"/>
<circle cx="1074.8" cy="1771.1" r="10.50" fill="#f03c42"/>
<circle cx="1071.9" cy="1771.6" r="10.50" fill="#f03c42"/>
<path d="M1078.5,1743.4L1089.1,1763.2H1067.9Z" fill="#f03c42"/>
<circle cx="1087.0" cy="1756.3" r="10.50" fill="#f03c42"/>
<rect x="1095.7" y="1737.1" width="19.74" height="19.74" fill="#f03c42"/>
<path d="M1098.6,1729.4L1109.2,1749.2H1088.0Z" fill="#f03c42"/>
<circle cx="1095.4" cy="1724.5" r="10.50" fill="#f03c42"/>
<rect x="1101.9" y="1710.9" width="19.74" height="19.74" fill="#f03c42"/>
<path d="M1111.8,1720.6L1122.4,1740.4H1101.2Z" fill="#f03c42"/>
<path d="M1120.3,1702.3L1130.9,1722.1H1109.7Z" fill="#f03c42"/>
<circle cx="1129.9" cy="1736.1" r="10.50" fill="#f03c42"/>
<circle cx="1138.9" cy="1736.1" r="10.50" fill="#f03c42"/>
<rect x="1127.9" y="1696.6" width="19.74" height="19.74" fill="#f03c42"/>
<path d="M1137.8,1708.4L1148.4,1728.2H1127.2Z" fill="#f03c42"/>
<rect x="1155.1" y="1697.1" width="19.74" height="19.74" fill="#f03c42"/>
<circle cx="1163.2" cy="1711.8" r="10.50" fill="#f03c42"/>
<path d="M1149.4,1706.3L1160.0,1726.1H1138.8Z" fill="#f03c42"/>
<path d="M1145.7,1687.3L1156.3,1707.1H1135.1Z" fill="#f03c42"/>
<path d="M1150.0,1684.6L1160.6,1704.4H1139.4Z" fill="#f03c42"/>
<path d="M1170.1,1694.9L1180.7,1714.7H1159.5Z" fill="#f03c42"/>
<path d="M1170.6,1683.5L1181.2,1703.3H1160.0Z" fill="#f03c42"/>
<path d="M1177.5,1682.7L1188.1,1702.5H1166.9Z" fill="#f03c42"/>
</g>
<text id="t0" x="18.00" y="56.50" font-size="61.65">Assigned up the taxonomic level of bacterial genus</text>
<text id="t1" x="316.89" y="150.00" font-size="54.17">Unamended</text>
<text id="t2" x="768.99" y="148.00" font-size="53.76">Ammonium amended</text>
<text id="t3" transform="translate(139.40,566.13) rotate(-90)" font-size="61.25">Unfertilized</text>
<text id="t4" transform="translate(141.20,1185.17) rotate(-90)" font-size="61.37">Fertilized</text>
<text id="t5" transform="translate(65.90,1905.54) rotate(-90)" font-size="61.24">Unfertilized &amp;</text>
<text id="t6" transform="translate(138.80,1836.94) rotate(-90)" font-size="61.04">fertilized</text>
<text x="251.15" y="217.74" font-size="31.40">20</text>
<text x="251.15" y="296.64" font-size="31.40">10</text>
<text x="268.57" y="374.34" font-size="31.40">0</text>
<text x="240.63" y="453.64" font-size="31.40">-10</text>
<text x="240.63" y="531.94" font-size="31.40">-20</text>
<text x="291.60" y="570.00" font-size="31.00">-40</text>
<text x="391.30" y="570.00" font-size="31.00">-20</text>
<text x="505.40" y="570.00" font-size="31.00">0</text>
<text x="596.29" y="570.00" font-size="31.00">20</text>
<text x="695.39" y="570.00" font-size="31.00">40</text>
<text id="t7" x="408.96" y="609.60" font-size="31.79">PCA1: 13.70%</text>
<text id="t8" transform="translate(230.80,504.03) rotate(-90)" font-size="31.65">PCA2: 2.06%</text>
<text id="t9" x="272.48" y="672.20" font-size="34.55">Practice F=1.70, p&lt;0.001</text>
<text id="t10" x="305.99" y="715.00" font-size="34.17">Time F=1.45 p&lt;0.001</text>
<text id="t11" x="254.48" y="755.00" font-size="34.72">Interaction F=1.04, p=0.045</text>
<text x="804.15" y="215.14" font-size="31.40">20</text>
<text x="804.15" y="294.94" font-size="31.40">10</text>
<text x="821.57" y="374.44" font-size="31.40">0</text>
<text x="793.63" y="452.74" font-size="31.40">-10</text>
<text x="793.63" y="530.74" font-size="31.40">-20</text>
<text x="844.30" y="569.90" font-size="31.00">-40</text>
<text x="945.00" y="569.90" font-size="31.00">-20</text>
<text x="1060.00" y="569.90" font-size="31.00">0</text>
<text x="1151.80" y="569.90" font-size="31.00">20</text>
<text x="1253.30" y="569.90" font-size="31.00">40</text>
<text id="t12" x="960.47" y="611.20" font-size="31.72">PCA 1: 13.60%</text>
<text id="t13" transform="translate(784.90,461.53) rotate(-90)" font-size="31.58">PCA 2: 4.67%</text>
<text id="t14" x="830.48" y="672.00" font-size="34.78">Practice F=1.33, p=0.004</text>
<text id="t15" x="857.49" y="715.40" font-size="34.49">Time F=2.16, p&lt;0.001</text>
<text id="t16" x="812.47" y="754.20" font-size="34.88">Interaction F=1.06, p=0.066</text>
<text x="248.35" y="880.54" font-size="31.40">20</text>
<text x="248.35" y="961.94" font-size="31.40">10</text>
<text x="265.77" y="1043.44" font-size="31.40">0</text>
<text x="237.83" y="1124.84" font-size="31.40">-10</text>
<text x="237.83" y="1206.34" font-size="31.40">-20</text>
<text x="289.70" y="1243.10" font-size="31.00">-40</text>
<text x="390.00" y="1243.10" font-size="31.00">-20</text>
<text x="504.90" y="1243.10" font-size="31.00">0</text>
<text x="596.39" y="1243.10" font-size="31.00">20</text>
<text x="696.79" y="1243.10" font-size="31.00">40</text>
<text id="t17" x="407.96" y="1281.90" font-size="32.02">PCA1: 14.00%</text>
<text id="t18" transform="translate(231.80,1166.03) rotate(-90)" font-size="31.65">PCA2: 2.89%</text>
<text id="t19" x="265.98" y="1330.00" font-size="34.69">Practice F=1.61, p&lt;0.001</text>
<text id="t20" x="292.99" y="1373.00" font-size="34.49">Time F=1.48, p&lt;0.001</text>
<text id="t21" x="247.97" y="1412.60" font-size="35.01">Interaction F=1.03, p=0.111</text>
<text x="804.65" y="874.64" font-size="31.40">20</text>
<text x="804.65" y="953.84" font-size="31.40">10</text>
<text x="822.07" y="1033.24" font-size="31.40">0</text>
<text x="794.13" y="1112.34" font-size="31.40">-10</text>
<text x="794.13" y="1191.64" font-size="31.40">-20</text>
<text x="846.60" y="1228.80" font-size="31.00">-40</text>
<text x="947.10" y="1228.80" font-size="31.00">-20</text>
<text x="1062.40" y="1228.80" font-size="31.00">0</text>
<text x="1154.50" y="1228.80" font-size="31.00">20</text>
<text x="1255.10" y="1228.80" font-size="31.00">40</text>
<text id="t22" x="972.46" y="1269.40" font-size="31.72">PCA 1: 11.0%</text>
<text id="t23" transform="translate(786.60,1121.54) rotate(-90)" font-size="31.74">PCA 2: 5.74%</text>
<text id="t24" x="829.47" y="1329.50" font-size="34.64">Practice F=1.38, p&lt;0.001</text>
<text id="t25" x="857.49" y="1372.60" font-size="34.24">Time F=1.90, p&lt;0.001</text>
<text id="t26" x="811.98" y="1412.50" font-size="34.88">Interaction F=1.05, p=0.053</text>
<text x="229.37" y="1534.30" font-size="28.50">20</text>
<text x="229.37" y="1617.10" font-size="28.50">10</text>
<text x="245.18" y="1697.70" font-size="28.50">0</text>
<text x="219.82" y="1780.40" font-size="28.50">-10</text>
<text x="219.82" y="1862.80" font-size="28.50">-20</text>
<text x="266.77" y="1897.10" font-size="28.00">-40</text>
<text x="374.87" y="1897.10" font-size="28.00">-20</text>
<text x="494.93" y="1897.10" font-size="28.00">0</text>
<text x="595.36" y="1897.10" font-size="28.00">20</text>
<text x="702.46" y="1897.10" font-size="28.00">40</text>
<text id="t27" x="463.97" y="1927.80" font-size="29.29">PCA 1: 13.49%</text>
<text id="t28" transform="translate(226.80,1779.53) rotate(-90)" font-size="28.92">PCA 2: 1.93%</text>
<text id="t29" x="277.97" y="2006.50" font-size="34.66">Practice F=1.77 p&lt;0.001</text>
<text id="t30" x="268.48" y="2050.70" font-size="34.63">Fertilizer F=1.87, p&lt;0.001</text>
<text id="t31" x="254.48" y="2091.30" font-size="34.84">Interaction F=1.17, p=0.005</text>
<text x="799.25" y="1538.56" font-size="29.50">20</text>
<text x="799.25" y="1620.96" font-size="29.50">10</text>
<text x="815.63" y="1702.36" font-size="29.50">0</text>
<text x="789.37" y="1783.86" font-size="29.50">-10</text>
<text x="789.37" y="1865.36" font-size="29.50">-20</text>
<text x="839.81" y="1902.10" font-size="29.60">-40</text>
<text x="942.41" y="1902.10" font-size="29.60">-20</text>
<text x="1058.59" y="1902.10" font-size="29.60">0</text>
<text x="1152.17" y="1902.10" font-size="29.60">20</text>
<text x="1253.97" y="1902.10" font-size="29.60">40</text>
<text id="t32" x="971.47" y="1939.20" font-size="31.68">PCA 1: 11.54%</text>
<text id="t33" transform="translate(783.40,1814.03) rotate(-90)" font-size="31.41">PCA 2: 4.43%</text>
<text id="t34" x="820.47" y="2007.70" font-size="34.64">Practice F=1.54, p&lt;0.001</text>
<text id="t35" x="816.48" y="2050.20" font-size="34.59">Fertilizer F=1.55, p&lt;0.001</text>
<text id="t36" x="801.48" y="2090.50" font-size="34.84">Interaction F=1.02, p=0.334</text>
</svg>
</body></html>
